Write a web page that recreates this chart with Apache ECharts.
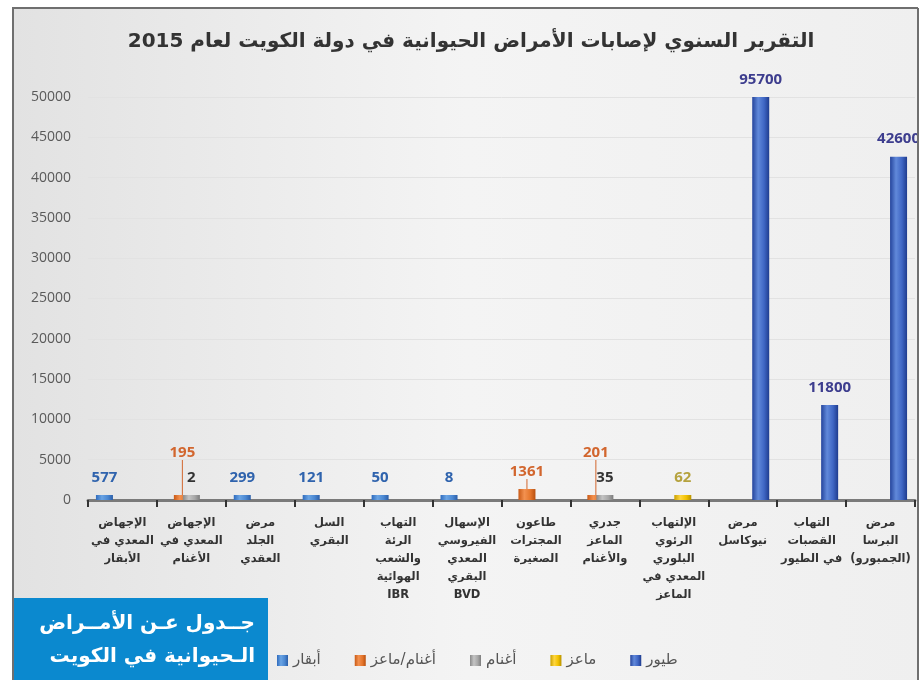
<!DOCTYPE html>
<html>
<head>
<meta charset="utf-8">
<script src="https://cdn.jsdelivr.net/npm/echarts@6/dist/echarts.min.js"></script>
<style>
  html, body { margin: 0; padding: 0; background: #fff; }
  #main { width: 924px; height: 680px; }
</style>
</head>
<body>
<div id="main" dir="rtl"></div>
<script>
var categories = [
    'الإجهاض\nالمعدي في\nالأبقار',
    'الإجهاض\nالمعدي في\nالأغنام',
    'مرض\nالجلد\nالعقدي',
    'السل\nالبقري',
    'التهاب\nالرئة\nوالشعب\nالهوائية\nIBR',
    'الإسهال\nالفيروسي\nالمعدي\nالبقري\nBVD',
    'طاعون\nالمجترات\nالصغيرة',
    'جدري\nالماعز\nوالأغنام',
    'الإلتهاب\nالرئوي\nالبلوري\nالمعدي في\nالماعز',
    'مرض\nنيوكاسل',
    'التهاب\nالقصبات\nفي الطيور',
    'مرض\nالبرسا\n(الجمبورو)'
];
var seriesNames = ['أبقار', 'أغنام/ماعز', 'أغنام', 'ماعز', 'طيور'];
var cattle     = [577, null, 299, 121, 50, 8, null, null, null, null, null, null];
var sheepGoats = [null, 195, null, null, null, null, 1361, 201, null, null, null, null];
var sheep      = [null, 2, null, null, null, null, null, 35, null, null, null, null];
var goats      = [null, null, null, null, null, null, null, null, 62, null, null, null];
var birds      = [null, null, null, null, null, null, null, null, null, 95700, 11800, 42600];
var yMax = 50000;
var yStep = 5000;

var arabicFont = 'DejaVu Sans';
var numFont = 'Open Sans';

// bars taller than the axis are cut at the top, label keeps the real number
function capped(arr) {
    return arr.map(function (v) {
        if (v == null) return null;
        return { value: Math.min(v, yMax), real: v };
    });
}

function hGrad(c0, c1, c2, c3) {
    return new echarts.graphic.LinearGradient(0, 0, 1, 0, [
        {offset: 0, color: c0}, {offset: 0.35, color: c1},
        {offset: 0.7, color: c2}, {offset: 1, color: c3}
    ]);
}

function barLabel(color) {
    return {
        show: true,
        position: 'top',
        distance: 10,
        fontFamily: numFont,
        fontWeight: 'bold',
        fontSize: 15,
        color: color,
        formatter: function (p) { return p.data.real; }
    };
}

var colors = ['#5b9bd5', '#ed7d31', '#a5a5a5', '#ffc000', '#4472c4'];

function makeSeries(i, arr, fill, labelColor) {
    return {
        name: seriesNames[i],
        type: 'bar',
        barWidth: 17,
        barGap: '-47%',
        barMinHeight: 5,
        data: capped(arr),
        itemStyle: {color: fill},
        label: barLabel(labelColor)
    };
}

var s0 = makeSeries(0, cattle, hGrad('#2f6bbd', '#6aa4e4', '#4b88d2', '#2b5ea8'), '#2f63ad');
var s1 = makeSeries(1, sheepGoats, hGrad('#c95a16', '#f39150', '#e5762c', '#b8500f'), '#d2662e');
s1.labelLayout = function (p) {
    if (p.dataIndex === 1 || p.dataIndex === 7) return {dy: -25};
    return {};
};
s1.labelLine = {show: true, lineStyle: {color: '#d2662e', width: 1}};
var s2 = makeSeries(2, sheep, hGrad('#8a8a8a', '#c4c4c4', '#a8a8a8', '#7d7d7d'), '#333333');
var s3 = makeSeries(3, goats, hGrad('#c9a000', '#ffd640', '#f2c200', '#b89200'), '#b5a23e');
var s4 = makeSeries(4, birds, hGrad('#24449c', '#6189da', '#3f66c4', '#1f3c8e'), '#3d3d8e');

var option = {
    color: colors,
    backgroundColor: '#ffffff',
    title: {
        text: 'التقرير السنوي لإصابات الأمراض الحيوانية في دولة الكويت لعام 2015',
        left: 466,
        textAlign: 'center',
        top: 27,
        textStyle: {
            fontFamily: arabicFont,
            fontWeight: 'bold',
            fontSize: 20,
            color: '#333333'
        }
    },
    grid: {left: 88, right: 9, top: 97, bottom: 180},
    legend: {
        left: 272,
        top: 648,
        itemWidth: 11,
        itemHeight: 11,
        itemGap: 34,
        icon: 'rect',
        textStyle: {fontFamily: arabicFont, fontSize: 15, color: '#555555'},
        data: seriesNames
    },
    xAxis: {
        type: 'category',
        data: categories,
        axisLine: {lineStyle: {color: '#7a7a7a', width: 3}},
        axisTick: {show: true, length: 7, lineStyle: {color: '#333333', width: 2}},
        axisLabel: {
            interval: 0,
            margin: 14,
            fontFamily: arabicFont,
            fontWeight: 'bold',
            fontSize: 11.5,
            lineHeight: 18,
            color: '#333333'
        }
    },
    yAxis: {
        type: 'value',
        min: 0,
        max: yMax,
        interval: yStep,
        axisLine: {show: false},
        axisTick: {show: false},
        axisLabel: {
            margin: 17,
            fontFamily: numFont,
            fontSize: 14,
            color: '#5a5a5a',
            formatter: function (v) { return String(v); }
        },
        splitLine: {lineStyle: {color: '#e2e2e2', width: 1}}
    },
    graphic: [
        {
            type: 'rect',
            z: -100,
            shape: {x: 13, y: 8, width: 905, height: 690},
            style: {
                fill: new echarts.graphic.LinearGradient(0, 0, 1, 0, [
                    {offset: 0, color: '#e2e2e2'},
                    {offset: 0.5, color: '#f4f4f4'},
                    {offset: 1, color: '#efefef'}
                ]),
                stroke: '#6f6f6f',
                lineWidth: 2
            }
        },
        {
            type: 'rect',
            z: 100,
            shape: {x: 918, y: 0, width: 6, height: 680},
            style: {fill: '#ffffff'}
        },
        {
            type: 'rect',
            z: 100,
            shape: {x: 917, y: 8, width: 2, height: 672},
            style: {fill: '#6f6f6f'}
        },
        {
            type: 'rect',
            z: 100,
            shape: {x: 14, y: 598, width: 254, height: 82},
            style: {fill: '#0b89cf'}
        },
        {
            type: 'text',
            z: 101,
            x: 255,
            y: 624,
            style: {
                text: 'جــدول عـن الأمــراض',
                fill: '#ffffff',
                font: 'bold 20px "DejaVu Sans"',
                textAlign: 'right',
                textVerticalAlign: 'middle'
            }
        },
        {
            type: 'text',
            z: 101,
            x: 255,
            y: 657,
            style: {
                text: 'الـحيوانية في الكويت',
                fill: '#ffffff',
                font: 'bold 20px "DejaVu Sans"',
                textAlign: 'right',
                textVerticalAlign: 'middle'
            }
        }
    ],
    series: [s0, s1, s2, s3, s4]
};

var chart = echarts.init(document.getElementById('main'));
chart.setOption(option);
</script>
</body>
</html>
